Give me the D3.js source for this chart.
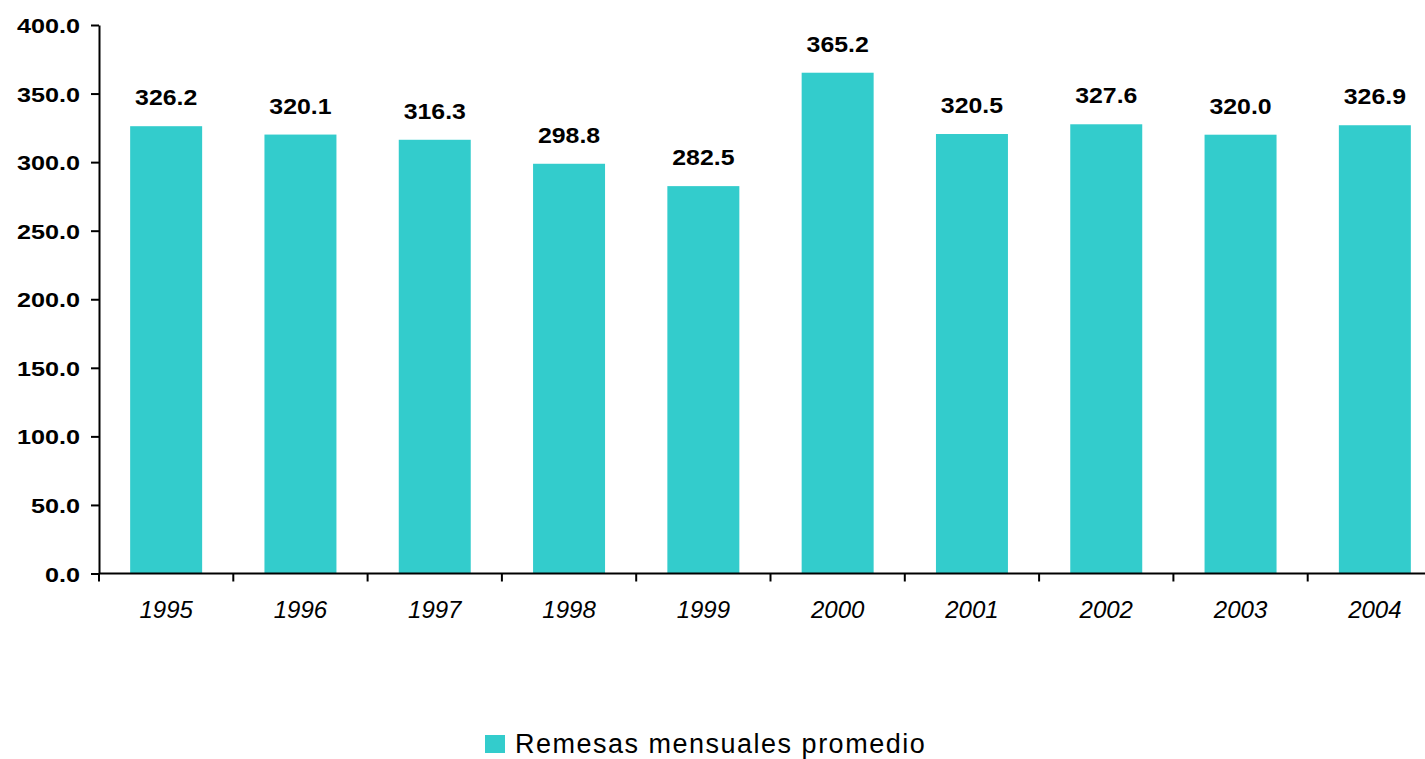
<!DOCTYPE html>
<html>
<head>
<meta charset="utf-8">
<script src="https://cdn.jsdelivr.net/npm/d3@7/dist/d3.min.js"></script>
<style>
  body { margin: 0; background: #fff; }
  svg { display: block; font-family: "Liberation Sans", Arial, sans-serif; }
</style>
</head>
<body>
<svg id="chart" width="1425" height="759"></svg>
<script>
// data
var years = ["1995", "1996", "1997", "1998", "1999", "2000", "2001", "2002", "2003", "2004"];
var remesas = [326.2, 320.1, 316.3, 298.8, 282.5, 365.2, 320.5, 327.6, 320.0, 326.9];
var yTicks = [0, 50, 100, 150, 200, 250, 300, 350, 400];
var seriesName = "Remesas mensuales promedio";

var svg = d3.select("#chart");
var teal = "#33cccc";
var fmt = d3.format(".1f");

var x = d3.scaleBand().domain(years).range([99, 1442])
  .paddingInner(0.464).paddingOuter(0.232);
var y = d3.scaleLinear().domain([0, 400]).range([573.5, 25]);

// bars
svg.append("g")
  .selectAll("rect")
  .data(years)
  .enter().append("rect")
    .attr("x", function(d) { return x(d); })
    .attr("width", x.bandwidth())
    .attr("y", function(d, i) { return y(remesas[i]); })
    .attr("height", function(d, i) { return y(0) - y(remesas[i]); })
    .attr("fill", teal);

// value labels over each bar
svg.append("g")
  .selectAll("text")
  .data(years)
  .enter().append("text")
    .attr("transform", function(d, i) {
      return "translate(" + (x(d) + x.bandwidth() / 2) + "," + (y(remesas[i]) - 21) + ") scale(1.13,1)";
    })
    .attr("text-anchor", "middle")
    .style("font-size", "22px")
    .style("font-weight", "bold")
    .text(function(d, i) { return fmt(remesas[i]); });

// y axis
var yAxis = svg.append("g")
  .attr("transform", "translate(99,0)")
  .call(d3.axisLeft(y).tickValues(yTicks).tickFormat(fmt).tickSize(8).tickSizeOuter(0));
yAxis.select(".domain").attr("stroke", "#000").attr("stroke-width", 2);
yAxis.selectAll(".tick line").attr("stroke", "#000").attr("stroke-width", 2);
yAxis.selectAll(".tick text")
  .attr("x", null).attr("dy", null)
  .attr("transform", "translate(-19,7.5) scale(1.2,1)")
  .attr("fill", "#000")
  .style("font-size", "21px")
  .style("font-weight", "bold")
  .style("font-family", "'Liberation Sans', Arial, sans-serif");

// x axis: line, ticks between categories, italic year labels
var xg = svg.append("g");
xg.append("line")
  .attr("x1", x.range()[0]).attr("x2", x.range()[1])
  .attr("y1", y(0)).attr("y2", y(0))
  .attr("stroke", "#000").attr("stroke-width", 2);
var bounds = d3.range(years.length + 1).map(function(i) { return x.range()[0] + i * x.step(); });
xg.selectAll(".xt")
  .data(bounds)
  .enter().append("line")
    .attr("class", "xt")
    .attr("x1", function(d) { return d; }).attr("x2", function(d) { return d; })
    .attr("y1", y(0)).attr("y2", y(0) + 8)
    .attr("stroke", "#000").attr("stroke-width", 2);
xg.selectAll(".xl")
  .data(years)
  .enter().append("text")
    .attr("class", "xl")
    .attr("x", function(d) { return x(d) + x.bandwidth() / 2; })
    .attr("y", 618)
    .attr("text-anchor", "middle")
    .style("font-size", "24px")
    .style("font-style", "italic")
    .text(function(d) { return d; });

// legend
var lg = svg.append("g").attr("transform", "translate(485,735)");
lg.append("rect").attr("width", 20).attr("height", 18).attr("fill", teal);
lg.append("text")
  .attr("x", 30).attr("y", 18)
  .style("font-size", "27px")
  .style("letter-spacing", "1.5px")
  .text(seriesName);
</script>
</body>
</html>
